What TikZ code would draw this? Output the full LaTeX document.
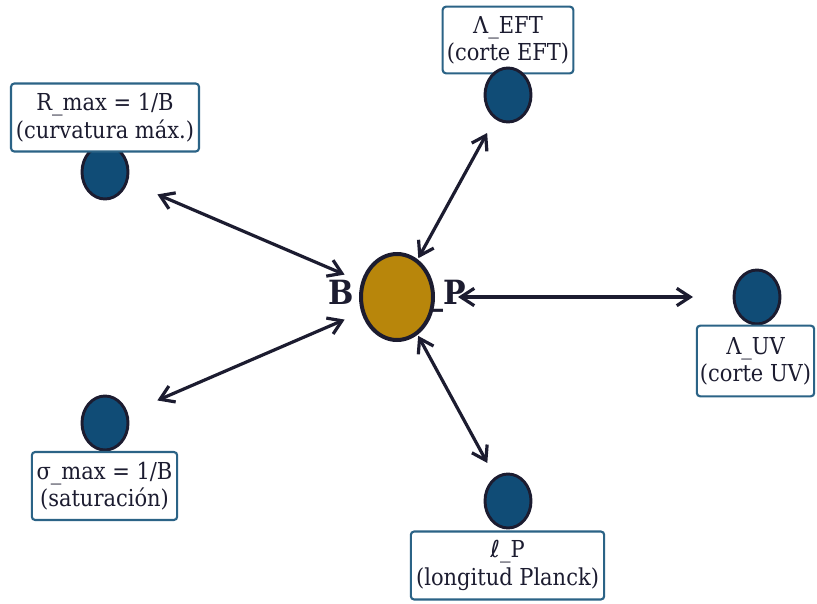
\documentclass[tikz,border=0pt]{standalone}
\usepackage{fontspec}
\setmainfont{DejaVu Serif Condensed}
\newfontfamily\symfont{DejaVu Sans}
\usetikzlibrary{arrows.meta,shapes.geometric}
\definecolor{navy}{HTML}{104C76}
\definecolor{ink}{HTML}{1C1C30}
\definecolor{gold}{HTML}{B8860B}
\definecolor{boxline}{HTML}{2B6386}
\begin{document}
\begin{tikzpicture}[x=0.75pt,y=-0.75pt,
  sat/.style={ellipse, draw=ink, line width=2.2pt, fill=navy, minimum width=34.5pt, minimum height=40.5pt, inner sep=0pt},
  hub/.style={ellipse, draw=ink, line width=3pt, fill=gold, minimum width=54pt, minimum height=64.5pt, inner sep=0pt},
  lbl/.style={draw=boxline, line width=1.6pt, fill=white, rounded corners=2.5pt, align=center, font=\fontsize{17.5}{20.5}\selectfont, text=ink, inner xsep=2pt, inner ysep=2pt},
  link/.style={{Straight Barb[length=10pt,width=13pt,line width=2.4pt]}-{Straight Barb[length=10pt,width=13pt,line width=2.4pt]}, draw=ink, line width=2.4pt}]
\useasboundingbox (0,0) rectangle (817,603);
% hub label
\node (hl) at (397,296) {\fontsize{25}{28}\selectfont\bfseries\color{ink}B\hspace{56pt}\_P};
\node[hub] (c) at (397,297) {};
% label drawn under top satellite
\node[lbl, minimum width=98pt, minimum height=50pt] (lt) at (508,40) {Λ\_EFT\\(corte EFT)};
% satellites
\node[sat] (tl) at (105,172) {};
\node[sat] (t) at (508,95) {};
\node[sat] (r) at (757,297) {};
\node[sat] (bl) at (105,423) {};
\node[sat] (b) at (508,501) {};
% other labels
\node[lbl, minimum width=141pt, minimum height=51pt] (ltl) at (105,117.5) {R\_max = 1/B\\(curvatura máx.)};
\node[lbl, minimum width=88pt, minimum height=53pt] (lr) at (755.5,361) {Λ\_UV\\(corte UV)};
\node[lbl, minimum width=109pt, minimum height=51pt] (lbl) at (104.5,486) {σ\_max = 1/B\\(saturación)};
\node[lbl, minimum width=145pt, minimum height=51pt] (lb) at (507.5,565.5) {{\symfont ℓ}\_P\\(longitud Planck)};
% links
\draw[link, shorten >=42.75pt, shorten <=42.75pt] (c.center) -- (tl.center);
\draw[link, shorten >=42.75pt, shorten <=42.75pt] (c.center) -- (bl.center);
\draw[link, shorten >=32.5pt, shorten <=33.2pt] (c.center) -- (t.center);
\draw[link, shorten >=32.5pt, shorten <=33.2pt] (c.center) -- (b.center);
\draw[link, shorten >=48pt, shorten <=45.75pt] (c.center) -- (r.center);
\end{tikzpicture}
\end{document}
